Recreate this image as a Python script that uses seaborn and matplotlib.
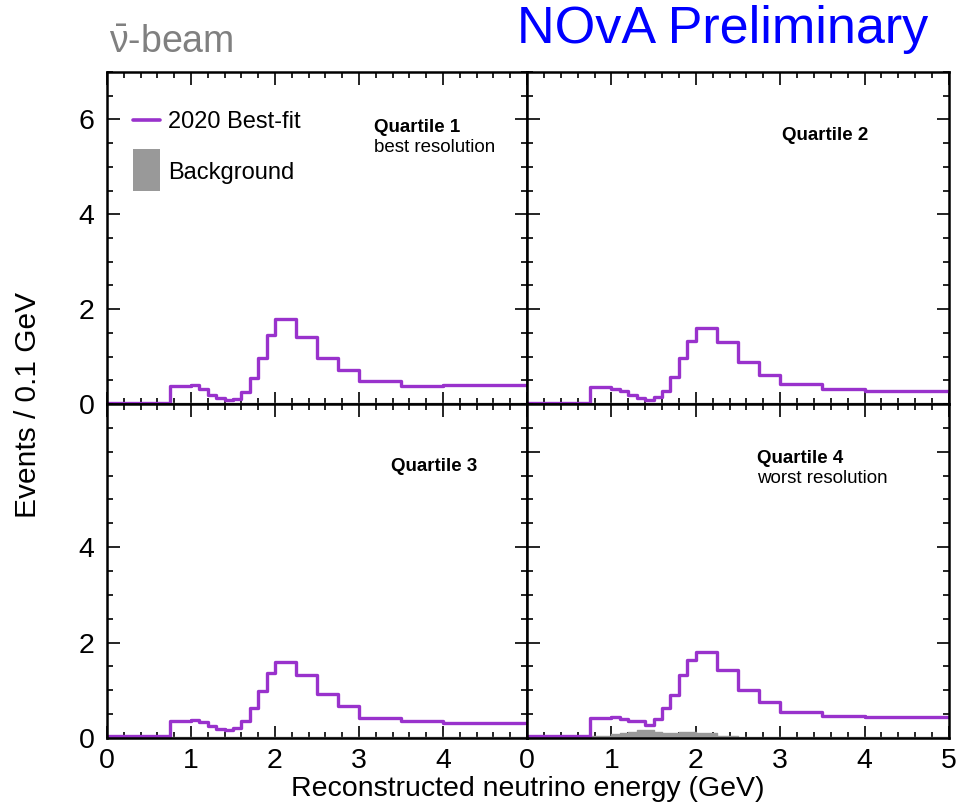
import numpy as np
import pandas as pd
import matplotlib
matplotlib.use("Agg")
import matplotlib.pyplot as plt
import seaborn as sns
from matplotlib.lines import Line2D
from matplotlib.patches import Patch, Rectangle
from matplotlib.legend_handler import HandlerPatch
from matplotlib.ticker import MultipleLocator

sns.set_theme(style="white")
plt.rcParams["font.family"] = ["Liberation Sans", "DejaVu Sans"]
plt.rcParams["mathtext.fontset"] = "custom"
plt.rcParams["mathtext.rm"] = "Liberation Sans"
plt.rcParams["mathtext.it"] = "Liberation Sans"
plt.rcParams["text.color"] = "black"
plt.rcParams["axes.labelcolor"] = "black"
plt.rcParams["xtick.color"] = "black"
plt.rcParams["ytick.color"] = "black"

# Reconstructed energy binning (GeV)
bin_edges = [0.0, 0.75, 1.0, 1.1, 1.2, 1.3, 1.4, 1.5, 1.6, 1.7, 1.8, 1.9,
             2.0, 2.25, 2.5, 2.75, 3.0, 3.5, 4.0, 5.0]

# Best-fit prediction, events / 0.1 GeV, per resolution quartile
q1_bestfit = [0.03, 0.38, 0.40, 0.31, 0.20, 0.13, 0.09, 0.11, 0.26, 0.54,
              0.98, 1.45, 1.79, 1.41, 0.96, 0.71, 0.49, 0.37, 0.41]
q2_bestfit = [0.02, 0.36, 0.32, 0.27, 0.20, 0.12, 0.08, 0.15, 0.27, 0.57,
              0.96, 1.32, 1.60, 1.30, 0.89, 0.61, 0.42, 0.32, 0.27]
q3_bestfit = [0.04, 0.35, 0.37, 0.33, 0.25, 0.18, 0.16, 0.20, 0.35, 0.63,
              0.99, 1.36, 1.59, 1.31, 0.92, 0.67, 0.42, 0.35, 0.32]
q4_bestfit = [0.05, 0.41, 0.45, 0.39, 0.35, 0.35, 0.28, 0.39, 0.62, 0.91,
              1.33, 1.64, 1.81, 1.42, 1.00, 0.76, 0.55, 0.47, 0.44]

# Background prediction, events / 0.1 GeV
q1_background = [0.01, 0.03, 0.03, 0.03, 0.03, 0.03, 0.03, 0.03, 0.03, 0.03,
                 0.03, 0.03, 0.03, 0.03, 0.03, 0.03, 0.03, 0.03, 0.03]
q2_background = [0.01, 0.03, 0.03, 0.03, 0.03, 0.03, 0.03, 0.03, 0.03, 0.03,
                 0.03, 0.03, 0.03, 0.03, 0.03, 0.03, 0.03, 0.03, 0.03]
q3_background = [0.01, 0.02, 0.02, 0.02, 0.02, 0.02, 0.02, 0.02, 0.02, 0.02,
                 0.02, 0.02, 0.02, 0.02, 0.02, 0.02, 0.02, 0.02, 0.02]
q4_background = [0.01, 0.04, 0.09, 0.10, 0.12, 0.17, 0.16, 0.12, 0.11, 0.11,
                 0.12, 0.12, 0.10, 0.05, 0.03, 0.03, 0.02, 0.02, 0.02]

quartile_titles = ["Quartile 1", "Quartile 2", "Quartile 3", "Quartile 4"]
quartile_notes = ["best resolution", "", "", "worst resolution"]

PURPLE = "#9932CC"
GREY = "#999999"

centers = [(lo + hi) / 2 for lo, hi in zip(bin_edges[:-1], bin_edges[1:])]
frames = []
for name, fit, bkg in zip(quartile_titles,
                          [q1_bestfit, q2_bestfit, q3_bestfit, q4_bestfit],
                          [q1_background, q2_background, q3_background, q4_background]):
    frames.append(pd.DataFrame({"quartile": name, "energy": centers,
                                "bestfit": fit, "background": bkg}))
df = pd.concat(frames, ignore_index=True)

fig = plt.figure(figsize=(9.6, 8.11), dpi=100)
W, H = 960, 811
x0, xm, x1 = 107, 527, 949
y0, ym, y1 = 72, 404, 738
boxes = [(x0, y0, xm, ym), (xm, y0, x1, ym), (x0, ym, xm, y1), (xm, ym, x1, y1)]

text_pos = [(0.636, 0.834), (0.604, 0.81), (0.676, 0.814), (0.545, 0.838)]

axes = []
for i, (l, t, r, b) in enumerate(boxes):
    ax = fig.add_axes([l / W, 1 - b / H, (r - l) / W, (b - t) / H])
    axes.append(ax)
    sub = df[df["quartile"] == quartile_titles[i]]
    sns.histplot(data=sub, x="energy", weights="background", bins=bin_edges,
                 element="step", fill=True, color=GREY, alpha=1.0,
                 edgecolor=GREY, linewidth=1.0, ax=ax)
    sns.histplot(data=sub, x="energy", weights="bestfit", bins=bin_edges,
                 element="step", fill=False, color=PURPLE, linewidth=2.4, ax=ax)
    ax.set_xlim(0, 5)
    ax.set_ylim(0, 7)
    ax.set_xlabel("")
    ax.set_ylabel("")
    ax.xaxis.set_major_locator(MultipleLocator(1))
    ax.xaxis.set_minor_locator(MultipleLocator(0.2))
    ax.yaxis.set_major_locator(MultipleLocator(2))
    ax.yaxis.set_minor_locator(MultipleLocator(0.5))
    ax.tick_params(which="both", direction="in", top=True, right=True,
                   bottom=True, left=True, width=1.2, color="black",
                   labelsize=20.5, labelcolor="black")
    ax.tick_params(axis="x", pad=7)
    ax.tick_params(axis="y", pad=9)
    ax.tick_params(which="major", length=9)
    ax.tick_params(which="minor", length=4.5)
    for s in ax.spines.values():
        s.set_linewidth(1.8)
        s.set_color("black")

    row, col = divmod(i, 2)
    if col == 1:
        ax.tick_params(labelleft=False)
    else:
        if row == 0:
            ax.set_yticks([0, 2, 4, 6])
        else:
            ax.set_yticks([0, 2, 4])
            ax.yaxis.set_minor_locator(MultipleLocator(0.5))
    if row == 0:
        ax.tick_params(labelbottom=False)
    else:
        if col == 0:
            ax.set_xticks([0, 1, 2, 3, 4])
            ax.xaxis.set_minor_locator(MultipleLocator(0.2))

    tx, ty = text_pos[i]
    ax.text(tx, ty, quartile_titles[i], transform=ax.transAxes,
            fontsize=13.5, fontweight="bold", va="center", ha="left")
    if quartile_notes[i]:
        ax.text(tx, ty - 0.06, quartile_notes[i], transform=ax.transAxes,
                fontsize=13.5, va="center", ha="left")


def tall_box(legend, orig_handle, xdescent, ydescent, width, height, fontsize):
    # background swatch drawn taller than the text row
    extra = 0.55 * fontsize
    return Rectangle((-xdescent, -ydescent - extra), width, height + 2 * extra)


handles = [Line2D([], [], color=PURPLE, linewidth=2.6),
           Patch(facecolor=GREY, edgecolor="none")]
axes[0].legend(handles, ["2020 Best-fit", "Background"], loc="upper left",
               bbox_to_anchor=(0.062, 0.882), frameon=False, fontsize=17,
               handlelength=1.15, handleheight=0.7, labelspacing=1.2,
               handletextpad=0.35, borderaxespad=0, borderpad=0,
               handler_map={Patch: HandlerPatch(patch_func=tall_box)})

fig.text(0.5 * (x0 + x1) / W, 1 - 789 / H, "Reconstructed neutrino energy (GeV)",
         ha="center", va="center", fontsize=20.5)
fig.text(28 / W, 1 - 405 / H, "Events / 0.1 GeV", rotation=90,
         ha="center", va="center", fontsize=21.5)
fig.text(109 / W, 1 - 43 / H, r"$\bar{\nu}$-beam", color="#808080",
         ha="left", va="center", fontsize=27)
fig.text(928 / W, 1 - 29 / H, "NOvA Preliminary", color="#0000FF",
         ha="right", va="center", fontsize=37.5)

fig.savefig("out.png", dpi=100)
